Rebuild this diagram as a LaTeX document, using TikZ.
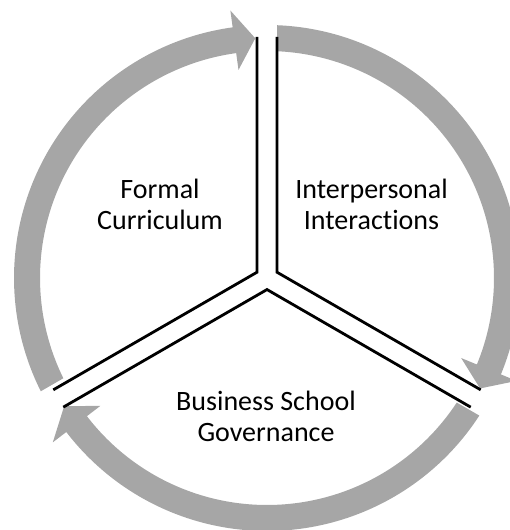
\documentclass[tikz,border=0pt]{standalone}
\usepackage{fontspec}
\setmainfont[Ligatures=NoCommon]{Carlito}
\definecolor{ringgray}{HTML}{A6A6A6}
\begin{document}
\begin{tikzpicture}[x=1pt,y=1pt,
  band/.style={fill=ringgray, draw=none},
  divider/.style={draw=black, line width=2.8pt, line join=miter, line cap=butt},
  txt/.style={font=\fontsize{28}{31}\selectfont, align=center, anchor=base, inner sep=0pt}]
\clip (0,0) rectangle (510,530);
\begin{scope}[shift={(267,252)}]
  % ring segments with arrowheads (clockwise)
  \fill[band] (206.21:227pt) -- (206.60:253pt)
     arc[start angle=206.60, end angle=97.8, radius=253pt]
     -- (97.8:270pt) -- (92.8:240pt) -- (97.8:210pt) -- (97.8:227pt)
     arc[start angle=97.8, end angle=206.21, radius=227pt] -- cycle;
  \fill[band] (87.48:227pt) -- (87.73:253pt)
     arc[start angle=87.73, end angle=-22.4, radius=253pt]
     -- (-22.4:270pt) -- (-27.4:240pt) -- (-22.4:210pt) -- (-22.4:227pt)
     arc[start angle=-22.4, end angle=87.48, radius=227pt] -- cycle;
  \fill[band] (-33.28:227pt) -- (-32.94:253pt)
     arc[start angle=-32.94, end angle=-142.5, radius=253pt]
     -- (-142.5:270pt) -- (-147.7:240pt) -- (-142.5:210pt) -- (-142.5:227pt)
     arc[start angle=-142.5, end angle=-33.28, radius=227pt] -- cycle;
  % divider geometry
  \coordinate (topL) at (-10,241);
  \coordinate (topR) at (10,241);
  \coordinate (v1) at (-10,5.77);
  \coordinate (v2) at (10,5.77);
  \coordinate (v3) at (0,-11.55);
  \coordinate (llU) at (-213.71,-111.84);
  \coordinate (llD) at (-203.71,-129.16);
  \coordinate (lrU) at (213.71,-111.84);
  \coordinate (lrD) at (203.71,-129.16);
  \draw[divider] (topL) -- (v1) -- (llU);
  \draw[divider] (topR) -- (v2) -- (lrU);
  \draw[divider] (llD) -- (v3) -- (lrD);
\end{scope}
\node[txt] (formal) at (160,300) {Formal\\Curriculum};
\node[txt] (inter) at (371.5,300) {Interpersonal\\Interactions};
\node[txt] (gov) at (266,88.5) {Business School\\Governance};
\end{tikzpicture}
\end{document}
